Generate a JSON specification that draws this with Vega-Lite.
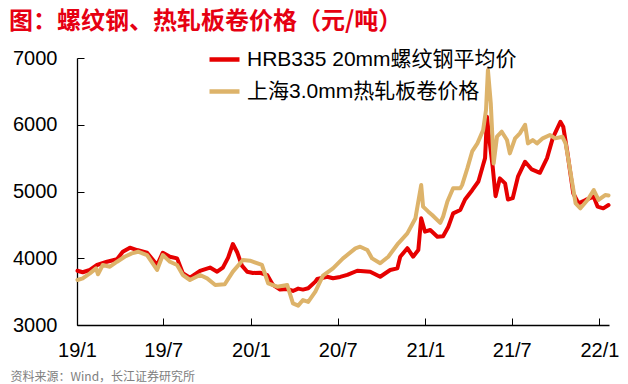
{
  "$schema": "https://vega.github.io/schema/vega-lite/v6.json",
  "width": 532,
  "height": 267,
  "autosize": {"type": "none"},
  "padding": {"left": 77, "top": 58, "right": 19, "bottom": 59},
  "title": {
    "text": "图：螺纹钢、热轧板卷价格（元/吨）",
    "anchor": "start",
    "frame": "group",
    "orient": "top",
    "dx": -68,
    "dy": 11,
    "offset": 19,
    "baseline": "top",
    "font": "Noto Sans CJK SC",
    "fontSize": 24,
    "fontWeight": "bold",
    "color": "#E60012"
  },
  "data": {
    "values": [
      {"date": "2019-01-02", "series": "HRB335 20mm螺纹钢平均价", "value": 3813},
      {"date": "2019-01-13", "series": "HRB335 20mm螺纹钢平均价", "value": 3790},
      {"date": "2019-01-28", "series": "HRB335 20mm螺纹钢平均价", "value": 3824},
      {"date": "2019-02-12", "series": "HRB335 20mm螺纹钢平均价", "value": 3899},
      {"date": "2019-03-05", "series": "HRB335 20mm螺纹钢平均价", "value": 3948},
      {"date": "2019-03-26", "series": "HRB335 20mm螺纹钢平均价", "value": 3984},
      {"date": "2019-04-07", "series": "HRB335 20mm螺纹钢平均价", "value": 4098},
      {"date": "2019-04-22", "series": "HRB335 20mm螺纹钢平均价", "value": 4158},
      {"date": "2019-05-07", "series": "HRB335 20mm螺纹钢平均价", "value": 4123},
      {"date": "2019-05-28", "series": "HRB335 20mm螺纹钢平均价", "value": 4083},
      {"date": "2019-06-18", "series": "HRB335 20mm螺纹钢平均价", "value": 3899},
      {"date": "2019-06-30", "series": "HRB335 20mm螺纹钢平均价", "value": 4083},
      {"date": "2019-07-15", "series": "HRB335 20mm螺纹钢平均价", "value": 4023},
      {"date": "2019-07-30", "series": "HRB335 20mm螺纹钢平均价", "value": 3998},
      {"date": "2019-08-11", "series": "HRB335 20mm螺纹钢平均价", "value": 3774},
      {"date": "2019-08-26", "series": "HRB335 20mm螺纹钢平均价", "value": 3710},
      {"date": "2019-09-16", "series": "HRB335 20mm螺纹钢平均价", "value": 3810},
      {"date": "2019-10-07", "series": "HRB335 20mm螺纹钢平均价", "value": 3860},
      {"date": "2019-10-22", "series": "HRB335 20mm螺纹钢平均价", "value": 3798},
      {"date": "2019-11-03", "series": "HRB335 20mm螺纹钢平均价", "value": 3860},
      {"date": "2019-11-14", "series": "HRB335 20mm螺纹钢平均价", "value": 4010},
      {"date": "2019-11-24", "series": "HRB335 20mm螺纹钢平均价", "value": 4213},
      {"date": "2019-12-03", "series": "HRB335 20mm螺纹钢平均价", "value": 4090},
      {"date": "2019-12-13", "series": "HRB335 20mm螺纹钢平均价", "value": 3890},
      {"date": "2019-12-24", "series": "HRB335 20mm螺纹钢平均价", "value": 3798},
      {"date": "2020-01-05", "series": "HRB335 20mm螺纹钢平均价", "value": 3780},
      {"date": "2020-01-20", "series": "HRB335 20mm螺纹钢平均价", "value": 3783},
      {"date": "2020-02-04", "series": "HRB335 20mm螺纹钢平均价", "value": 3748},
      {"date": "2020-02-16", "series": "HRB335 20mm螺纹钢平均价", "value": 3600},
      {"date": "2020-03-02", "series": "HRB335 20mm螺纹钢平均价", "value": 3530},
      {"date": "2020-03-17", "series": "HRB335 20mm螺纹钢平均价", "value": 3540},
      {"date": "2020-03-29", "series": "HRB335 20mm螺纹钢平均价", "value": 3510},
      {"date": "2020-04-09", "series": "HRB335 20mm螺纹钢平均价", "value": 3545},
      {"date": "2020-04-19", "series": "HRB335 20mm螺纹钢平均价", "value": 3530},
      {"date": "2020-04-30", "series": "HRB335 20mm螺纹钢平均价", "value": 3550},
      {"date": "2020-05-15", "series": "HRB335 20mm螺纹钢平均价", "value": 3650},
      {"date": "2020-05-19", "series": "HRB335 20mm螺纹钢平均价", "value": 3690},
      {"date": "2020-06-09", "series": "HRB335 20mm螺纹钢平均价", "value": 3723},
      {"date": "2020-06-21", "series": "HRB335 20mm螺纹钢平均价", "value": 3700},
      {"date": "2020-07-06", "series": "HRB335 20mm螺纹钢平均价", "value": 3720},
      {"date": "2020-07-21", "series": "HRB335 20mm螺纹钢平均价", "value": 3750},
      {"date": "2020-08-11", "series": "HRB335 20mm螺纹钢平均价", "value": 3813},
      {"date": "2020-09-07", "series": "HRB335 20mm螺纹钢平均价", "value": 3798},
      {"date": "2020-09-28", "series": "HRB335 20mm螺纹钢平均价", "value": 3723},
      {"date": "2020-10-19", "series": "HRB335 20mm螺纹钢平均价", "value": 3824},
      {"date": "2020-11-03", "series": "HRB335 20mm螺纹钢平均价", "value": 3848},
      {"date": "2020-11-09", "series": "HRB335 20mm螺纹钢平均价", "value": 4023},
      {"date": "2020-11-24", "series": "HRB335 20mm螺纹钢平均价", "value": 4150},
      {"date": "2020-12-06", "series": "HRB335 20mm螺纹钢平均价", "value": 4023},
      {"date": "2020-12-17", "series": "HRB335 20mm螺纹钢平均价", "value": 4123},
      {"date": "2020-12-23", "series": "HRB335 20mm螺纹钢平均价", "value": 4598},
      {"date": "2020-12-31", "series": "HRB335 20mm螺纹钢平均价", "value": 4398},
      {"date": "2021-01-11", "series": "HRB335 20mm螺纹钢平均价", "value": 4423},
      {"date": "2021-01-26", "series": "HRB335 20mm螺纹钢平均价", "value": 4323},
      {"date": "2021-02-07", "series": "HRB335 20mm螺纹钢平均价", "value": 4330},
      {"date": "2021-02-18", "series": "HRB335 20mm螺纹钢平均价", "value": 4473},
      {"date": "2021-02-28", "series": "HRB335 20mm螺纹钢平均价", "value": 4673},
      {"date": "2021-03-15", "series": "HRB335 20mm螺纹钢平均价", "value": 4723},
      {"date": "2021-03-25", "series": "HRB335 20mm螺纹钢平均价", "value": 4880},
      {"date": "2021-04-09", "series": "HRB335 20mm螺纹钢平均价", "value": 5020},
      {"date": "2021-04-22", "series": "HRB335 20mm螺纹钢平均价", "value": 5150},
      {"date": "2021-05-02", "series": "HRB335 20mm螺纹钢平均价", "value": 5400},
      {"date": "2021-05-06", "series": "HRB335 20mm螺纹钢平均价", "value": 5500},
      {"date": "2021-05-10", "series": "HRB335 20mm螺纹钢平均价", "value": 6120},
      {"date": "2021-05-16", "series": "HRB335 20mm螺纹钢平均价", "value": 5721},
      {"date": "2021-05-22", "series": "HRB335 20mm螺纹钢平均价", "value": 5371},
      {"date": "2021-05-28", "series": "HRB335 20mm螺纹钢平均价", "value": 4930},
      {"date": "2021-06-06", "series": "HRB335 20mm螺纹钢平均价", "value": 5197},
      {"date": "2021-06-17", "series": "HRB335 20mm螺纹钢平均价", "value": 5122},
      {"date": "2021-06-23", "series": "HRB335 20mm螺纹钢平均价", "value": 4880},
      {"date": "2021-07-03", "series": "HRB335 20mm螺纹钢平均价", "value": 4900},
      {"date": "2021-07-14", "series": "HRB335 20mm螺纹钢平均价", "value": 5222},
      {"date": "2021-07-29", "series": "HRB335 20mm螺纹钢平均价", "value": 5446},
      {"date": "2021-08-12", "series": "HRB335 20mm螺纹钢平均价", "value": 5330},
      {"date": "2021-08-29", "series": "HRB335 20mm螺纹钢平均价", "value": 5280},
      {"date": "2021-09-13", "series": "HRB335 20mm螺纹钢平均价", "value": 5500},
      {"date": "2021-09-25", "series": "HRB335 20mm螺纹钢平均价", "value": 5800},
      {"date": "2021-10-11", "series": "HRB335 20mm螺纹钢平均价", "value": 6045},
      {"date": "2021-10-17", "series": "HRB335 20mm螺纹钢平均价", "value": 5971},
      {"date": "2021-10-26", "series": "HRB335 20mm螺纹钢平均价", "value": 5571},
      {"date": "2021-11-01", "series": "HRB335 20mm螺纹钢平均价", "value": 5272},
      {"date": "2021-11-07", "series": "HRB335 20mm螺纹钢平均价", "value": 4973},
      {"date": "2021-11-18", "series": "HRB335 20mm螺纹钢平均价", "value": 4823},
      {"date": "2021-12-03", "series": "HRB335 20mm螺纹钢平均价", "value": 4873},
      {"date": "2021-12-20", "series": "HRB335 20mm螺纹钢平均价", "value": 4922},
      {"date": "2021-12-28", "series": "HRB335 20mm螺纹钢平均价", "value": 4773},
      {"date": "2022-01-09", "series": "HRB335 20mm螺纹钢平均价", "value": 4748},
      {"date": "2022-01-20", "series": "HRB335 20mm螺纹钢平均价", "value": 4798},
      {"date": "2019-01-02", "series": "上海3.0mm热轧板卷价格", "value": 3674},
      {"date": "2019-01-13", "series": "上海3.0mm热轧板卷价格", "value": 3699},
      {"date": "2019-01-28", "series": "上海3.0mm热轧板卷价格", "value": 3774},
      {"date": "2019-02-10", "series": "上海3.0mm热轧板卷价格", "value": 3849},
      {"date": "2019-02-14", "series": "上海3.0mm热轧板卷价格", "value": 3760},
      {"date": "2019-02-24", "series": "上海3.0mm热轧板卷价格", "value": 3899},
      {"date": "2019-03-11", "series": "上海3.0mm热轧板卷价格", "value": 3873},
      {"date": "2019-03-26", "series": "上海3.0mm热轧板卷价格", "value": 3948},
      {"date": "2019-04-11", "series": "上海3.0mm热轧板卷价格", "value": 4023},
      {"date": "2019-04-26", "series": "上海3.0mm热轧板卷价格", "value": 4073},
      {"date": "2019-05-09", "series": "上海3.0mm热轧板卷价格", "value": 4098},
      {"date": "2019-05-28", "series": "上海3.0mm热轧板卷价格", "value": 4048},
      {"date": "2019-06-18", "series": "上海3.0mm热轧板卷价格", "value": 3824},
      {"date": "2019-06-30", "series": "上海3.0mm热轧板卷价格", "value": 4048},
      {"date": "2019-07-15", "series": "上海3.0mm热轧板卷价格", "value": 3948},
      {"date": "2019-07-30", "series": "上海3.0mm热轧板卷价格", "value": 3899},
      {"date": "2019-08-11", "series": "上海3.0mm热轧板卷价格", "value": 3749},
      {"date": "2019-08-26", "series": "上海3.0mm热轧板卷价格", "value": 3674},
      {"date": "2019-09-16", "series": "上海3.0mm热轧板卷价格", "value": 3749},
      {"date": "2019-10-01", "series": "上海3.0mm热轧板卷价格", "value": 3698},
      {"date": "2019-10-18", "series": "上海3.0mm热轧板卷价格", "value": 3599},
      {"date": "2019-11-07", "series": "上海3.0mm热轧板卷价格", "value": 3610},
      {"date": "2019-11-24", "series": "上海3.0mm热轧板卷价格", "value": 3800},
      {"date": "2019-12-15", "series": "上海3.0mm热轧板卷价格", "value": 3974},
      {"date": "2019-12-30", "series": "上海3.0mm热轧板卷价格", "value": 3964},
      {"date": "2020-01-24", "series": "上海3.0mm热轧板卷价格", "value": 3899},
      {"date": "2020-02-06", "series": "上海3.0mm热轧板卷价格", "value": 3624},
      {"date": "2020-02-25", "series": "上海3.0mm热轧板卷价格", "value": 3574},
      {"date": "2020-03-17", "series": "上海3.0mm热轧板卷价格", "value": 3599},
      {"date": "2020-03-29", "series": "上海3.0mm热轧板卷价格", "value": 3324},
      {"date": "2020-04-09", "series": "上海3.0mm热轧板卷价格", "value": 3290},
      {"date": "2020-04-19", "series": "上海3.0mm热轧板卷价格", "value": 3374},
      {"date": "2020-04-30", "series": "上海3.0mm热轧板卷价格", "value": 3345},
      {"date": "2020-05-15", "series": "上海3.0mm热轧板卷价格", "value": 3499},
      {"date": "2020-05-31", "series": "上海3.0mm热轧板卷价格", "value": 3740},
      {"date": "2020-06-21", "series": "上海3.0mm热轧板卷价格", "value": 3849},
      {"date": "2020-07-12", "series": "上海3.0mm热轧板卷价格", "value": 3998},
      {"date": "2020-08-07", "series": "上海3.0mm热轧板卷价格", "value": 4148},
      {"date": "2020-08-17", "series": "上海3.0mm热轧板卷价格", "value": 4173},
      {"date": "2020-09-01", "series": "上海3.0mm热轧板卷价格", "value": 4123},
      {"date": "2020-09-11", "series": "上海3.0mm热轧板卷价格", "value": 3998},
      {"date": "2020-09-28", "series": "上海3.0mm热轧板卷价格", "value": 3924},
      {"date": "2020-10-15", "series": "上海3.0mm热轧板卷价格", "value": 4023},
      {"date": "2020-11-05", "series": "上海3.0mm热轧板卷价格", "value": 4224},
      {"date": "2020-11-24", "series": "上海3.0mm热轧板卷价格", "value": 4373},
      {"date": "2020-12-11", "series": "上海3.0mm热轧板卷价格", "value": 4600},
      {"date": "2020-12-23", "series": "上海3.0mm热轧板卷价格", "value": 5097},
      {"date": "2020-12-27", "series": "上海3.0mm热轧板卷价格", "value": 4773},
      {"date": "2021-01-07", "series": "上海3.0mm热轧板卷价格", "value": 4698},
      {"date": "2021-01-15", "series": "上海3.0mm热轧板卷价格", "value": 4648},
      {"date": "2021-02-01", "series": "上海3.0mm热轧板卷价格", "value": 4530},
      {"date": "2021-02-07", "series": "上海3.0mm热轧板卷价格", "value": 4623},
      {"date": "2021-02-16", "series": "上海3.0mm热轧板卷价格", "value": 4850},
      {"date": "2021-02-28", "series": "上海3.0mm热轧板卷价格", "value": 5050},
      {"date": "2021-03-15", "series": "上海3.0mm热轧板卷价格", "value": 5047},
      {"date": "2021-03-19", "series": "上海3.0mm热轧板卷价格", "value": 5100},
      {"date": "2021-03-30", "series": "上海3.0mm热轧板卷价格", "value": 5350},
      {"date": "2021-04-09", "series": "上海3.0mm热轧板卷价格", "value": 5600},
      {"date": "2021-04-20", "series": "上海3.0mm热轧板卷价格", "value": 5721},
      {"date": "2021-05-02", "series": "上海3.0mm热轧板卷价格", "value": 5921},
      {"date": "2021-05-08", "series": "上海3.0mm热轧板卷价格", "value": 6221},
      {"date": "2021-05-12", "series": "上海3.0mm热轧板卷价格", "value": 6820},
      {"date": "2021-05-18", "series": "上海3.0mm热轧板卷价格", "value": 6320},
      {"date": "2021-05-24", "series": "上海3.0mm热轧板卷价格", "value": 5420},
      {"date": "2021-05-31", "series": "上海3.0mm热轧板卷价格", "value": 5821},
      {"date": "2021-06-10", "series": "上海3.0mm热轧板卷价格", "value": 5896},
      {"date": "2021-06-21", "series": "上海3.0mm热轧板卷价格", "value": 5771},
      {"date": "2021-06-27", "series": "上海3.0mm热轧板卷价格", "value": 5571},
      {"date": "2021-07-08", "series": "上海3.0mm热轧板卷价格", "value": 5796},
      {"date": "2021-07-18", "series": "上海3.0mm热轧板卷价格", "value": 5871},
      {"date": "2021-07-29", "series": "上海3.0mm热轧板卷价格", "value": 6000},
      {"date": "2021-08-04", "series": "上海3.0mm热轧板卷价格", "value": 5721},
      {"date": "2021-08-14", "series": "上海3.0mm热轧板卷价格", "value": 5771},
      {"date": "2021-08-23", "series": "上海3.0mm热轧板卷价格", "value": 5721},
      {"date": "2021-09-04", "series": "上海3.0mm热轧板卷价格", "value": 5796},
      {"date": "2021-09-19", "series": "上海3.0mm热轧板卷价格", "value": 5846},
      {"date": "2021-09-30", "series": "上海3.0mm热轧板卷价格", "value": 5796},
      {"date": "2021-10-15", "series": "上海3.0mm热轧板卷价格", "value": 5821},
      {"date": "2021-10-22", "series": "上海3.0mm热轧板卷价格", "value": 5721},
      {"date": "2021-10-28", "series": "上海3.0mm热轧板卷价格", "value": 5471},
      {"date": "2021-11-05", "series": "上海3.0mm热轧板卷价格", "value": 5122},
      {"date": "2021-11-12", "series": "上海3.0mm热轧板卷价格", "value": 4823},
      {"date": "2021-11-22", "series": "上海3.0mm热轧板卷价格", "value": 4748},
      {"date": "2021-12-07", "series": "上海3.0mm热轧板卷价格", "value": 4873},
      {"date": "2021-12-20", "series": "上海3.0mm热轧板卷价格", "value": 5022},
      {"date": "2021-12-30", "series": "上海3.0mm热轧板卷价格", "value": 4873},
      {"date": "2022-01-13", "series": "上海3.0mm热轧板卷价格", "value": 4947},
      {"date": "2022-01-20", "series": "上海3.0mm热轧板卷价格", "value": 4940}
    ]
  },
  "mark": {"type": "line", "strokeWidth": 4, "strokeJoin": "round", "strokeCap": "round"},
  "encoding": {
    "x": {
      "field": "date",
      "type": "temporal",
      "scale": {"domain": [{"year": 2019, "month": 1, "date": 1}, {"year": 2022, "month": 1, "date": 21}]},
      "axis": {
        "values": [
          {"year": 2019, "month": 1, "date": 1},
          {"year": 2019, "month": 7, "date": 1},
          {"year": 2020, "month": 1, "date": 1},
          {"year": 2020, "month": 7, "date": 1},
          {"year": 2021, "month": 1, "date": 1},
          {"year": 2021, "month": 7, "date": 1},
          {"year": 2022, "month": 1, "date": 1}
        ],
        "format": "%y/%-m",
        "grid": false,
        "tickSize": -7,
        "tickColor": "#000000",
        "domainColor": "#000000",
        "domainWidth": 1.3,
        "tickWidth": 1,
        "labelPadding": 22,
        "labelFont": "Liberation Sans",
        "labelFontSize": 20,
        "labelColor": "#000000",
        "labelAngle": 0,
        "labelOverlap": false,
        "labelFlush": false,
        "title": "资料来源：Wind，长江证券研究所",
        "titleFont": "Noto Sans CJK SC",
        "titleFontSize": 12,
        "titleFontWeight": "normal",
        "titleColor": "#808080",
        "titleAnchor": "start",
        "titleAlign": "left",
        "titleBaseline": "middle",
        "titleX": -67,
        "titleY": 51
      }
    },
    "y": {
      "field": "value",
      "type": "quantitative",
      "scale": {"domain": [3000, 7000], "nice": false, "zero": false},
      "axis": {
        "values": [3000, 4000, 5000, 6000, 7000],
        "format": "d",
        "grid": false,
        "tickSize": -7,
        "tickColor": "#000000",
        "domainColor": "#000000",
        "domainWidth": 1.3,
        "tickWidth": 1,
        "labelPadding": 27,
        "labelFont": "Liberation Sans",
        "labelFontSize": 20,
        "labelColor": "#000000",
        "title": null
      }
    },
    "color": {
      "field": "series",
      "type": "nominal",
      "scale": {
        "domain": ["HRB335 20mm螺纹钢平均价", "上海3.0mm热轧板卷价格"],
        "range": ["#E60000", "#DDB36A"]
      },
      "legend": {
        "orient": "none",
        "legendX": 130,
        "legendY": -16,
        "title": null,
        "symbolType": "stroke",
        "symbolSize": 900,
        "symbolStrokeWidth": 4.5,
        "labelFont": "Liberation Sans, Noto Sans CJK SC",
        "labelFontSize": 21,
        "labelColor": "#000000",
        "labelOffset": 5,
        "labelLimit": 400,
        "rowPadding": 4,
        "padding": 0
      }
    }
  },
  "config": {
    "view": {"stroke": null},
    "background": "#ffffff"
  }
}
